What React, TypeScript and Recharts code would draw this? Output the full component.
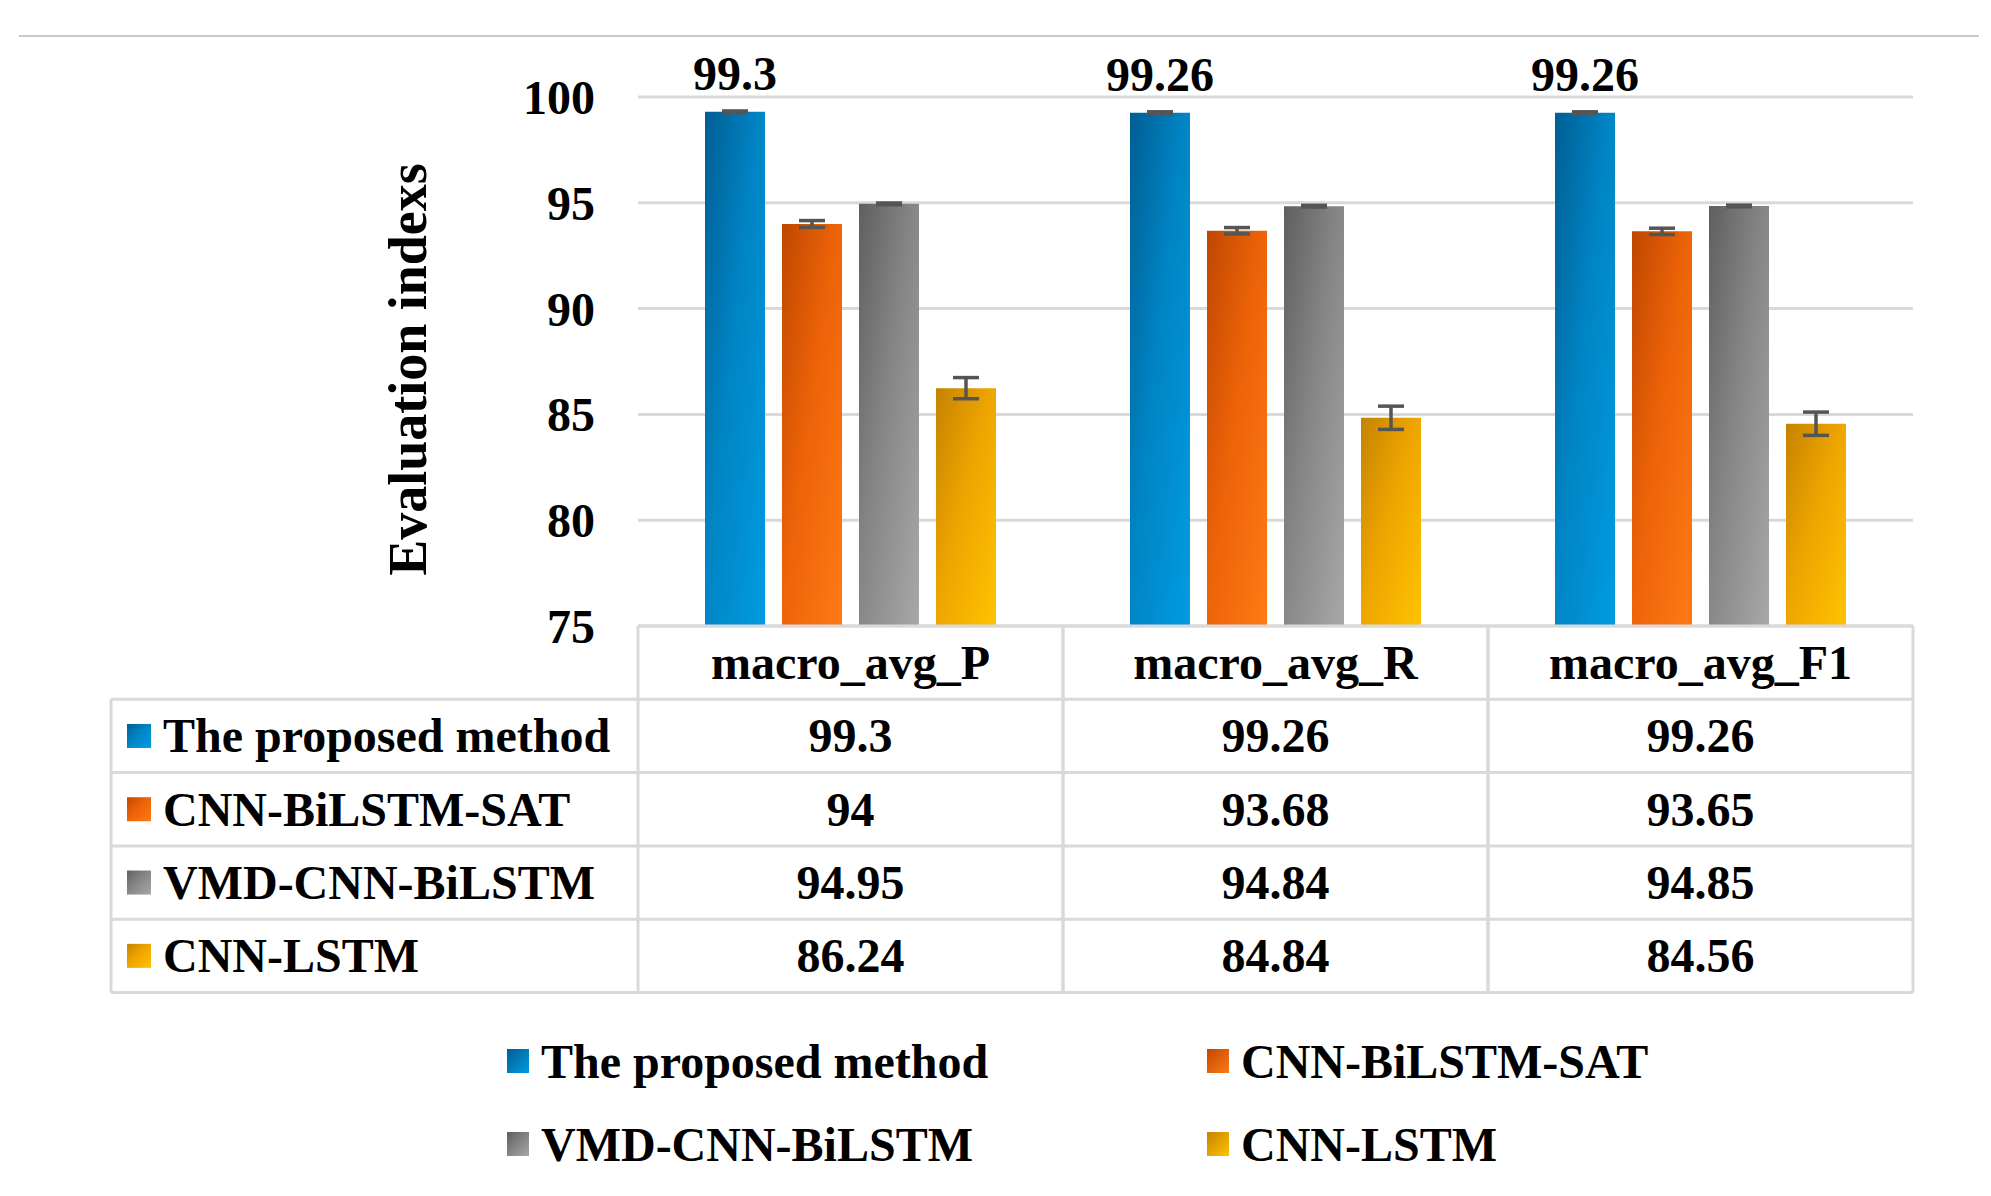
import React from "react";
import { BarChart, Bar, XAxis, YAxis, CartesianGrid, ErrorBar, LabelList } from "recharts";

const categories = ["macro_avg_P", "macro_avg_R", "macro_avg_F1"];
const seriesNames = ["The proposed method", "CNN-BiLSTM-SAT", "VMD-CNN-BiLSTM", "CNN-LSTM"];
const proposed = [99.3, 99.26, 99.26];
const cnnBilstmSat = [94, 93.68, 93.65];
const vmdCnnBilstm = [94.95, 94.84, 94.85];
const cnnLstm = [86.24, 84.84, 84.56];
const proposedErr = [0.04, 0.04, 0.04];
const cnnBilstmSatErr = [0.16, 0.15, 0.15];
const vmdCnnBilstmErr = [0.04, 0.04, 0.04];
const cnnLstmErr = [0.5, 0.55, 0.55];
const yTicks = [75, 80, 85, 90, 95, 100];

const W = 1991;
const H = 1196;
const FONT = "'Liberation Serif', 'Times New Roman', serif";
const M = { top: 97, right: 78, left: 518, bottom: 200 };
const Y_AXIS_W = 120;
const PLOT_H = 529;
const X_AXIS_H = H - M.top - M.bottom - PLOT_H;
const PLOT_LEFT = M.left + Y_AXIS_W;
const PLOT_RIGHT = W - M.right;
const PLOT_BOTTOM = M.top + PLOT_H;
const BAND = (PLOT_RIGHT - PLOT_LEFT) / categories.length;
const ROW_H = 73.3;
const TABLE_LEFT = 111;
const BORDER = "#d9d9d9";

const seriesValues = [proposed, cnnBilstmSat, vmdCnnBilstm, cnnLstm];
const seriesStyle = [
  { key: "proposed", grad: "gBlue", from: "#005e93", mid: "#0084c4", to: "#009ce2" },
  { key: "sat", grad: "gOrange", from: "#bf4700", mid: "#ec6208", to: "#ff7a14" },
  { key: "vmd", grad: "gGray", from: "#5f5f5f", mid: "#858585", to: "#a8a8a8" },
  { key: "lstm", grad: "gYellow", from: "#c48300", mid: "#eda400", to: "#ffc300" },
];

const data = categories.map((name, i) => ({
  name,
  proposed: proposed[i],
  proposedErr: proposedErr[i],
  sat: cnnBilstmSat[i],
  satErr: cnnBilstmSatErr[i],
  vmd: vmdCnnBilstm[i],
  vmdErr: vmdCnnBilstmErr[i],
  lstm: cnnLstm[i],
  lstmErr: cnnLstmErr[i],
}));

const textStyle = { fontFamily: FONT, fontSize: 48, fontWeight: 700, fill: "#000" };

function TableColumn(props: any) {
  const { x, index, payload } = props;
  const top = PLOT_BOTTOM;
  const left = x - BAND / 2;
  const right = x + BAND / 2;
  const bottom = top + ROW_H * 5;
  const parts: any[] = [];
  parts.push(<line key="vl" x1={left} y1={top} x2={left} y2={bottom} stroke={BORDER} strokeWidth={3} />);
  parts.push(<line key="vr" x1={right} y1={top} x2={right} y2={bottom} stroke={BORDER} strokeWidth={3} />);
  for (let r = 0; r <= 5; r++) {
    parts.push(
      <line key={"h" + r} x1={left} y1={top + r * ROW_H} x2={right} y2={top + r * ROW_H} stroke={BORDER} strokeWidth={3} />
    );
  }
  parts.push(
    <text key="hd" x={x} y={top + ROW_H / 2} textAnchor="middle" dominantBaseline="central" style={textStyle}>
      {payload.value}
    </text>
  );
  seriesValues.forEach((vals, r) => {
    parts.push(
      <text key={"v" + r} x={x} y={top + ROW_H * (r + 1.5)} textAnchor="middle" dominantBaseline="central" style={textStyle}>
        {vals[index]}
      </text>
    );
  });
  if (index === 0) {
    parts.push(<line key="ll" x1={TABLE_LEFT} y1={top + ROW_H} x2={TABLE_LEFT} y2={bottom} stroke={BORDER} strokeWidth={3} />);
    for (let r = 1; r <= 5; r++) {
      parts.push(
        <line key={"lh" + r} x1={TABLE_LEFT} y1={top + r * ROW_H} x2={left} y2={top + r * ROW_H} stroke={BORDER} strokeWidth={3} />
      );
    }
    seriesNames.forEach((name, r) => {
      const cy = top + ROW_H * (r + 1.5);
      parts.push(<rect key={"k" + r} x={127} y={cy - 12} width={24} height={24} fill={`url(#${seriesStyle[r].grad})`} />);
      parts.push(
        <text key={"n" + r} x={163} y={cy} textAnchor="start" dominantBaseline="central" style={textStyle}>
          {name}
        </text>
      );
    });
  }
  return <g>{parts}</g>;
}

const legendPos = [
  { left: 507, top: 1061 },
  { left: 1207, top: 1061 },
  { left: 507, top: 1144 },
  { left: 1207, top: 1144 },
];

export default function App() {
  return (
    <div style={{ position: "absolute", left: 0, top: 0, width: W, height: H, background: "#fff", fontFamily: FONT }}>
      <div style={{ position: "absolute", left: 19, top: 35, width: 1960, height: 2, background: "#c8c8c8" }} />
      <BarChart width={W} height={H} data={data} margin={M} barSize={60} barGap={17}>
        <defs>
          {seriesStyle.map((s) => (
            <linearGradient key={s.grad} id={s.grad} x1="0" y1="0" x2="1" y2="1">
              <stop offset="0%" stopColor={s.from} />
              <stop offset="45%" stopColor={s.mid} />
              <stop offset="100%" stopColor={s.to} />
            </linearGradient>
          ))}
        </defs>
        <CartesianGrid vertical={false} stroke={BORDER} strokeWidth={3} />
        <XAxis
          dataKey="name"
          axisLine={false}
          tickLine={false}
          height={X_AXIS_H}
          interval={0}
          tick={(p: any) => <TableColumn {...p} />}
        />
        <YAxis
          domain={[75, 100]}
          ticks={yTicks}
          width={Y_AXIS_W}
          axisLine={false}
          tickLine={false}
          tickSize={0}
          tickMargin={43}
          tick={{ fill: "#000", fontSize: 48, fontWeight: 700, fontFamily: FONT }}
          label={{
            content: (p: any) => {
              const vb = p.viewBox || { x: M.left, y: M.top, height: PLOT_H };
              const cx = vb.x - 110;
              const cy = vb.y + vb.height / 2 + 8;
              return (
                <text
                  x={cx}
                  y={cy}
                  transform={`rotate(-90 ${cx} ${cy})`}
                  textAnchor="middle"
                  dominantBaseline="central"
                  style={{ fontFamily: FONT, fontSize: 54, fontWeight: 700, fill: "#000" }}
                >
                  Evaluation indexs
                </text>
              );
            },
          }}
        />
        {seriesStyle.map((s, i) => (
          <Bar key={s.key} dataKey={s.key} name={seriesNames[i]} fill={`url(#${s.grad})`} isAnimationActive={false}>
            <ErrorBar dataKey={s.key + "Err"} width={13} strokeWidth={3.5} stroke="#555" direction="y" />
            {i === 0 && (
              <LabelList
                dataKey={s.key}
                position="top"
                offset={22}
                style={{ fontFamily: FONT, fontSize: 48, fontWeight: 700, fill: "#000" }}
              />
            )}
          </Bar>
        ))}
      </BarChart>
      {seriesNames.map((name, i) => (
        <div
          key={name}
          style={{
            position: "absolute",
            left: legendPos[i].left,
            top: legendPos[i].top - 30,
            height: 60,
            display: "flex",
            alignItems: "center",
            fontSize: 48,
            fontWeight: 700,
            color: "#000",
            whiteSpace: "nowrap",
          }}
        >
          <span
            style={{
              display: "inline-block",
              width: 22,
              height: 24,
              marginRight: 12,
              background: `linear-gradient(135deg, ${seriesStyle[i].from}, ${seriesStyle[i].to})`,
            }}
          />
          {name}
        </div>
      ))}
    </div>
  );
}
